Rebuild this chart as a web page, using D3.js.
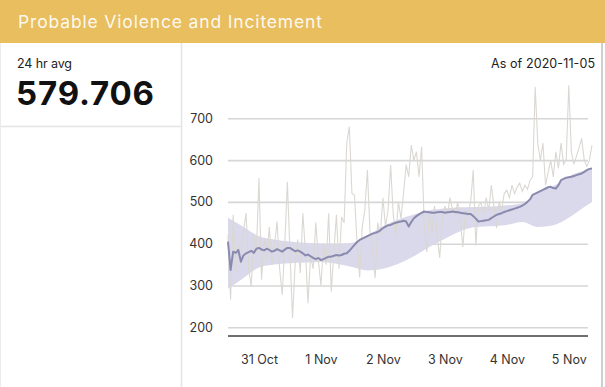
<!DOCTYPE html>
<html>
<head>
<meta charset="utf-8">
<script src="https://cdn.jsdelivr.net/npm/d3@7"></script>
<style>
  html, body { margin: 0; padding: 0; background: #fff; }
  svg { display: block; }
  text { font-family: Inter, "Liberation Sans", Arial, sans-serif; }
</style>
</head>
<body>
<svg id="chart" width="605" height="387"></svg>
<script>
// ---------------- DATA ----------------
const title = "Probable Violence and Incitement";
const avgLabel = "24 hr avg";
const avgValue = "579.706";
const asOfLabel = "As of 2020-11-05";
const startTime = "2020-10-30T12:00:00";   // first hourly sample
const yTicks = [200, 300, 400, 500, 600, 700];

// hourly raw score (light grey line)
const rawValues = [
  420, 266, 469, 330, 395, 350, 430, 473, 340, 297, 420, 380,
  557, 314, 410, 360, 440, 350, 395, 453, 340, 278, 400, 548,
  380, 222, 350, 410, 330, 473, 380, 258, 370, 340, 451, 360,
  300, 400, 350, 473, 285, 380, 469, 340, 464, 450, 641, 680,
  521, 516, 400, 320, 440, 480, 576, 430, 380, 318, 450, 420,
  510, 440, 480, 588, 470, 420, 500, 460, 520, 589, 560, 636,
  600, 620, 560, 632, 450, 380, 470, 430, 490, 420, 366, 460,
  490, 470, 510, 480, 470, 500, 450, 392, 480, 470, 500, 576,
  396, 490, 498, 470, 510, 480, 540, 490, 437, 500, 480, 520,
  528, 510, 540, 520, 535, 545, 525, 540, 530, 552, 560, 775,
  640, 600, 641, 540, 570, 600, 560, 620, 580, 641, 590, 600,
  779, 620, 590, 610, 630, 652, 600, 585, 600, 636
];

// hourly rolling average (purple line)
const meanValues = [
  405, 337, 381, 378, 385, 357, 372, 377, 380, 383, 378, 388,
  390, 386, 384, 388, 385, 381, 383, 387, 384, 381, 386, 390,
  390, 386, 382, 384, 381, 377, 372, 374, 370, 366, 363, 366,
  361, 363, 366, 369, 369, 371, 373, 372, 373, 376, 377, 383,
  390, 397, 404, 409, 412, 415, 418, 421, 424, 426, 428, 432,
  437, 441, 444, 445, 448, 450, 452, 453, 455, 453, 441, 452,
  461, 466, 470, 474, 477, 476, 475, 474, 474, 475, 476, 476,
  474, 475, 476, 477, 476, 475, 474, 473, 472, 471, 471, 466,
  460, 453, 454, 455, 456, 457, 461, 465, 469, 471, 473, 476,
  478, 480, 482, 484, 486, 488, 491, 495, 500, 506, 517, 520,
  523, 526, 529, 532, 535, 536, 533, 532, 540, 552, 555, 558,
  559, 560, 562, 564, 566, 568, 572, 576, 579, 580
];

// expected range band (hours since start)
const bandHours = [0, 6, 12, 18, 24, 30, 36, 42, 48, 54, 60, 66, 72, 78, 84, 90, 96, 102, 108, 114, 120, 126, 132, 138, 141];
const bandUpper = [462, 440, 418, 410, 405, 402, 400, 400, 402, 420, 442, 458, 470, 480, 484, 487, 488, 489, 492, 497, 525, 538, 561, 575, 581];
const bandLower = [292, 318, 343, 350, 353, 355, 356, 352, 344, 336, 340, 352, 370, 392, 412, 430, 440, 442, 445, 452, 440, 444, 462, 488, 500];

// ---------------- CHART ----------------
const W = 605, H = 387;
const svg = d3.select("#chart");
const t0 = new Date(startTime);
const hourToDate = h => d3.timeHour.offset(t0, h);
const nPts = rawValues.length;

const x = d3.scaleTime()
  .domain([t0, hourToDate(nPts - 1)])
  .range([228, 592]);
const y = d3.scaleLinear().domain([200, 700]).range([327.3, 118.3]);

// panel frame
svg.append("rect").attr("x", 0).attr("y", 0).attr("width", W).attr("height", H).attr("fill", "#fff");
svg.append("rect").attr("x", 0).attr("y", 0).attr("width", W).attr("height", 43).attr("fill", "#e8be5f");
svg.append("line").attr("x1", 181.5).attr("x2", 181.5).attr("y1", 43).attr("y2", H)
  .attr("stroke", "#e4e4e4").attr("stroke-width", 1.5);
svg.append("line").attr("x1", 0).attr("x2", 181).attr("y1", 126.5).attr("y2", 126.5)
  .attr("stroke", "#e4e4e4").attr("stroke-width", 1.5);
svg.append("line").attr("x1", 0.5).attr("x2", 0.5).attr("y1", 43).attr("y2", H)
  .attr("stroke", "#ececec").attr("stroke-width", 1);
svg.append("line").attr("x1", 602).attr("x2", 602).attr("y1", 43).attr("y2", H)
  .attr("stroke", "#cfcfcf").attr("stroke-width", 2);

// texts
svg.append("text").attr("x", 18).attr("y", 28)
  .attr("font-size", 17.5).attr("fill", "rgba(255,255,255,0.92)")
  .attr("textLength", 304).attr("lengthAdjust", "spacing")
  .text(title);
svg.append("text").attr("x", 17).attr("y", 68)
  .attr("font-size", 12.5).attr("fill", "#222")
  .attr("textLength", 55).attr("lengthAdjust", "spacing")
  .text(avgLabel);
svg.append("text").attr("x", 16).attr("y", 105)
  .attr("font-size", 33).attr("font-weight", 700).attr("fill", "#111")
  .attr("textLength", 138).attr("lengthAdjust", "spacing")
  .text(avgValue);
svg.append("text").attr("x", 491).attr("y", 67.5)
  .attr("font-size", 12.5).attr("fill", "#222")
  .attr("textLength", 104).attr("lengthAdjust", "spacing")
  .text(asOfLabel);

// y grid + labels
const yAxis = svg.append("g").attr("transform", "translate(228,0)")
  .call(d3.axisLeft(y).tickValues(yTicks).tickSize(-360).tickPadding(15).tickFormat(d3.format("d")));
yAxis.select(".domain").remove();
yAxis.selectAll(".tick line").attr("stroke", "#d6d6d6").attr("stroke-width", 1.6);
yAxis.selectAll(".tick text").attr("font-size", 12.5).attr("fill", "#333")
  .attr("font-family", "Inter, 'Liberation Sans', Arial, sans-serif");

// band
const band = d3.area()
  .x((d, i) => x(hourToDate(bandHours[i])))
  .y0((d, i) => y(bandLower[i]))
  .y1((d, i) => y(bandUpper[i]))
  .curve(d3.curveMonotoneX);
svg.append("path").datum(bandHours).attr("d", band).attr("fill", "#d9d9eb");

// raw line
const rawLine = d3.line().x((d, i) => x(hourToDate(i))).y(d => y(d));
svg.append("path").datum(rawValues).attr("d", rawLine)
  .attr("fill", "none").attr("stroke", "#dbd8d3").attr("stroke-width", 1.1);

// mean line
svg.append("path").datum(meanValues).attr("d", rawLine)
  .attr("fill", "none").attr("stroke", "#8a8aae").attr("stroke-width", 2)
  .attr("stroke-linejoin", "round");

// x axis
svg.append("line").attr("x1", 228).attr("x2", 588).attr("y1", 336).attr("y2", 336)
  .attr("stroke", "#6f6f6f").attr("stroke-width", 2);
const xAxis = svg.append("g").attr("transform", "translate(0,336)")
  .call(d3.axisBottom(x).ticks(d3.timeDay.every(1)).tickSize(0).tickPadding(19)
    .tickFormat(d3.timeFormat("%-d %b")));
xAxis.select(".domain").remove();
xAxis.selectAll(".tick text").attr("font-size", 12.5).attr("fill", "#333")
  .attr("font-family", "Inter, 'Liberation Sans', Arial, sans-serif");
</script>
</body>
</html>
